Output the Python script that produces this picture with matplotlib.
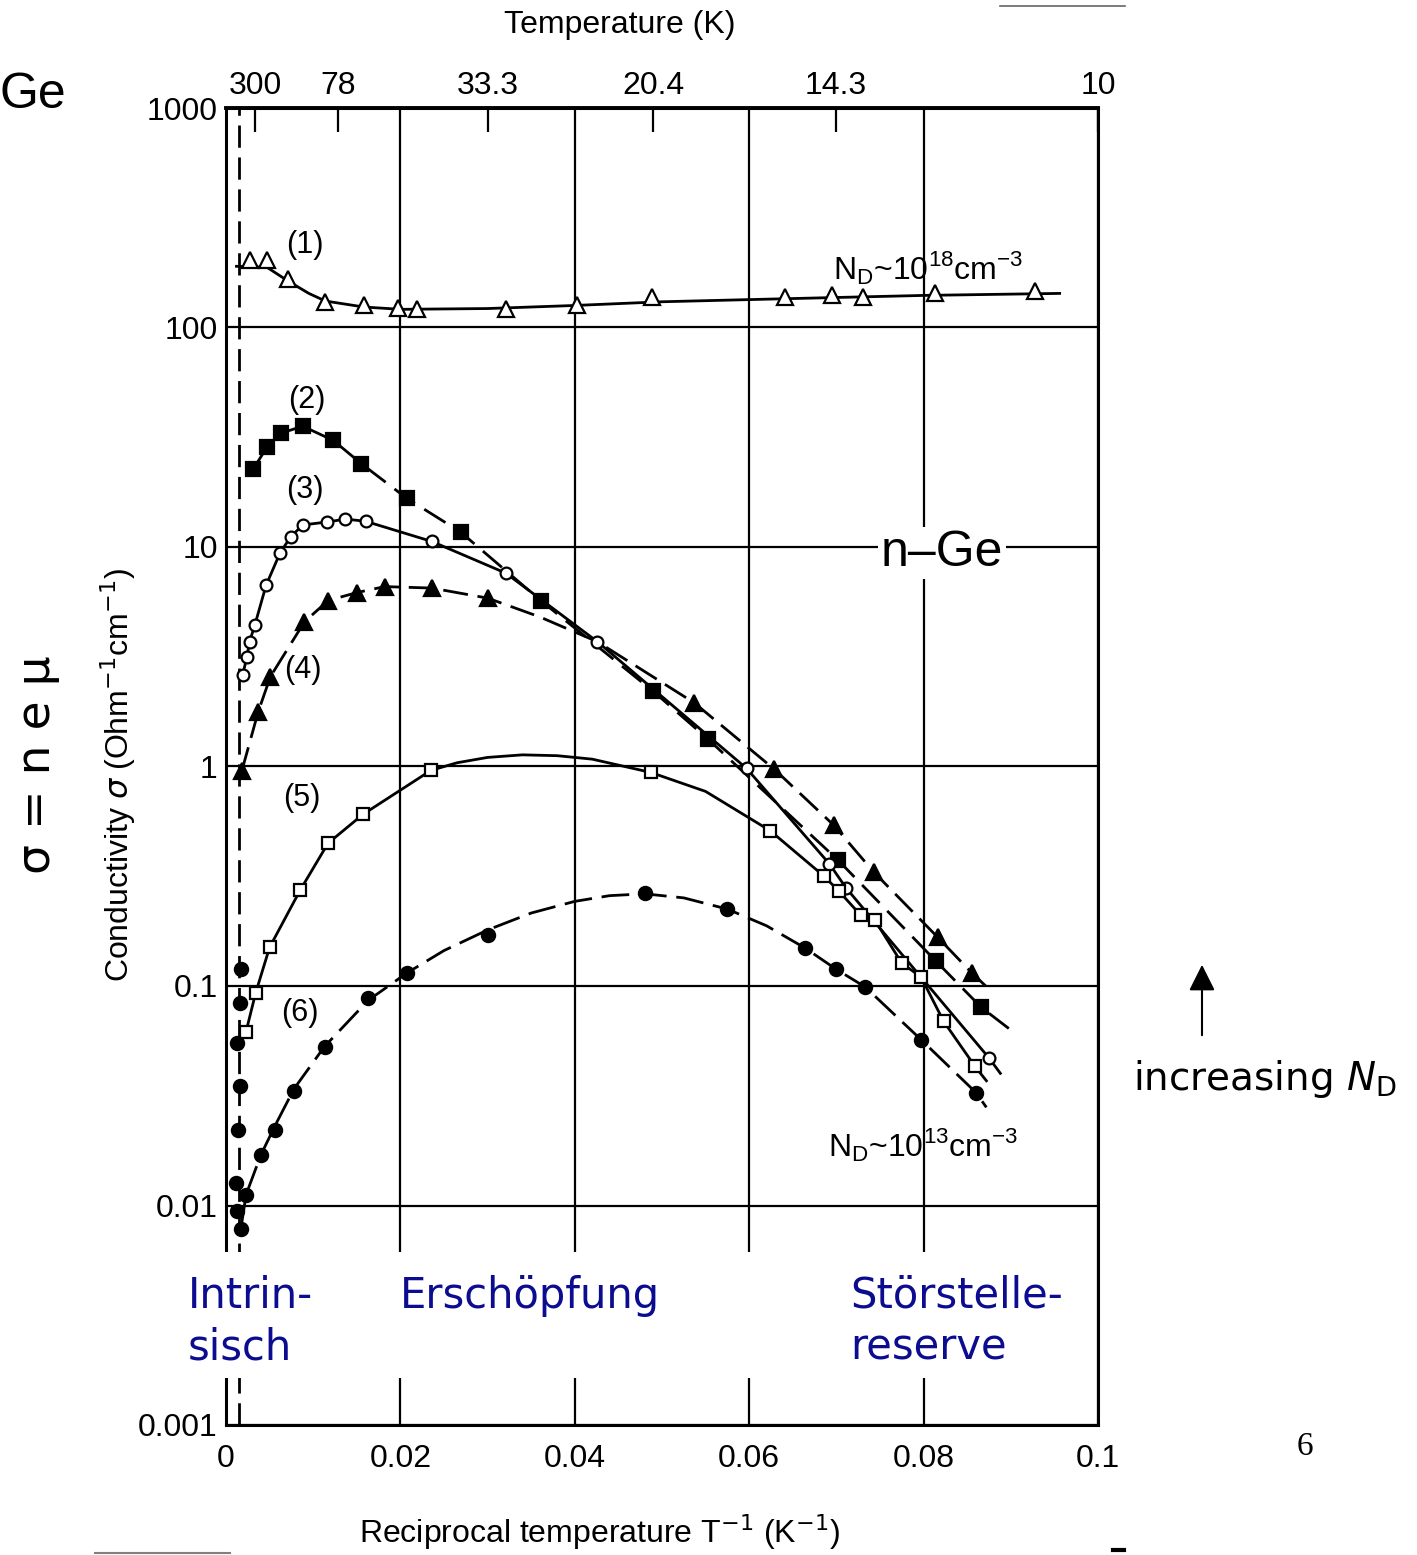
import numpy as np
import matplotlib.pyplot as plt
from matplotlib.lines import Line2D
from matplotlib.patches import Rectangle, FancyArrowPatch
from matplotlib.ticker import NullLocator

plt.rcParams['font.family'] = ['Liberation Sans', 'DejaVu Sans']

W, H = 1417, 1555
DPI = 100

# (1) N_D ~ 1e18, open triangles
c1_x = [0.0028, 0.0047, 0.0071, 0.0114, 0.0158, 0.0197, 0.0219, 0.0321, 0.0402, 0.0489, 0.0641, 0.0695, 0.0731, 0.0813, 0.0928]
c1_y = [202, 202, 167, 130, 127, 123, 122, 122, 126, 137, 138, 140, 138, 144, 146]
c1_lx = [0.0012, 0.0047, 0.0071, 0.0095, 0.0114, 0.0158, 0.02, 0.03, 0.04, 0.05, 0.06, 0.07, 0.08, 0.0956]
c1_ly = [190, 188, 163, 143, 132, 124, 121, 122, 126, 131, 134, 137, 140, 143]

# (2) filled squares
c2_x = [0.0031, 0.0047, 0.0063, 0.0088, 0.0123, 0.0155, 0.0207, 0.0269, 0.0361, 0.049, 0.0553, 0.0702, 0.0814, 0.0866]
c2_y = [22.6, 28.5, 33, 35.5, 30.6, 24, 16.7, 11.7, 5.7, 2.2, 1.33, 0.374, 0.13, 0.08]
c2_lx = c2_x + [0.0900]
c2_ly = c2_y + [0.063]

# (3) open circles
c3_x = [0.0019, 0.0024, 0.0027, 0.0033, 0.0046, 0.0062, 0.0074, 0.0088, 0.0116, 0.0137, 0.016, 0.0236, 0.0321, 0.0426, 0.0597, 0.0692, 0.0711, 0.0875]
c3_y = [2.6, 3.16, 3.7, 4.4, 6.7, 9.4, 11.1, 12.6, 13.0, 13.4, 13.1, 10.6, 7.6, 3.7, 0.98, 0.36, 0.28, 0.047]
c3_lx = c3_x + [0.0888]
c3_ly = c3_y + [0.040]

# (4) filled triangles
c4_x = [0.0018, 0.0037, 0.0051, 0.009, 0.0117, 0.015, 0.0182, 0.0236, 0.03, 0.0537, 0.0629, 0.0697, 0.0743, 0.0816, 0.0855]
c4_y = [0.95, 1.78, 2.57, 4.56, 5.7, 6.2, 6.6, 6.5, 5.85, 1.95, 0.97, 0.54, 0.33, 0.167, 0.115]
c4_lx = [0.0018, 0.0037, 0.0051, 0.009, 0.0117, 0.015, 0.0182, 0.0236, 0.03, 0.036, 0.0426, 0.0537, 0.0629, 0.0697, 0.0743, 0.0816, 0.0855, 0.0876]
c4_ly = [0.95, 1.78, 2.57, 4.56, 5.7, 6.2, 6.6, 6.5, 5.85, 4.8, 3.7, 1.95, 0.97, 0.54, 0.33, 0.167, 0.115, 0.096]

# (5) open squares
c5_x = [0.0023, 0.0034, 0.005, 0.0085, 0.0117, 0.0157, 0.0235, 0.0487, 0.0624, 0.0686, 0.0703, 0.0728, 0.0744, 0.0775, 0.0797, 0.0823, 0.0859]
c5_y = [0.062, 0.093, 0.15, 0.273, 0.447, 0.605, 0.96, 0.94, 0.51, 0.316, 0.27, 0.21, 0.2, 0.127, 0.11, 0.069, 0.043]
c5_lx = [0.0023, 0.0034, 0.005, 0.0085, 0.0117, 0.0157, 0.0235, 0.0265, 0.03, 0.034, 0.038, 0.042, 0.0487, 0.055, 0.0624, 0.0686, 0.0703, 0.0728, 0.0744, 0.0775, 0.0797, 0.0823, 0.0859, 0.0872]
c5_ly = [0.062, 0.093, 0.15, 0.273, 0.447, 0.605, 0.96, 1.04, 1.1, 1.13, 1.12, 1.08, 0.94, 0.77, 0.51, 0.316, 0.27, 0.21, 0.2, 0.127, 0.11, 0.069, 0.043, 0.037]

# (6) N_D ~ 1e13, filled circles
c6_x = [0.0023, 0.004, 0.0056, 0.0078, 0.0113, 0.0163, 0.0208, 0.03, 0.048, 0.0575, 0.0664, 0.07, 0.0733, 0.0797, 0.086]
c6_y = [0.0112, 0.017, 0.022, 0.0333, 0.053, 0.088, 0.115, 0.17, 0.265, 0.224, 0.149, 0.119, 0.099, 0.057, 0.0327]
c6i_x = [0.0017, 0.0016, 0.0013, 0.0016, 0.0014, 0.0012, 0.0013, 0.0017]
c6i_y = [0.12, 0.084, 0.055, 0.035, 0.022, 0.0127, 0.0094, 0.0078]
c6_lx = [0.0017, 0.0023, 0.004, 0.0056, 0.0078, 0.0113, 0.0163, 0.0208, 0.025, 0.03, 0.035, 0.04, 0.044, 0.048, 0.0525, 0.0575, 0.062, 0.0664, 0.07, 0.0733, 0.0797, 0.086, 0.0872]
c6_ly = [0.0078, 0.0112, 0.017, 0.023, 0.034, 0.053, 0.086, 0.115, 0.145, 0.18, 0.215, 0.243, 0.258, 0.263, 0.252, 0.224, 0.188, 0.149, 0.119, 0.099, 0.057, 0.0327, 0.028]

intrinsic_x = 0.0015

x_ticks = [0, 0.02, 0.04, 0.06, 0.08, 0.1]
x_labels = ['0', '0.02', '0.04', '0.06', '0.08', '0.1']
y_ticks = [1e-3, 1e-2, 1e-1, 1, 10, 100, 1000]
y_labels = ['0.001', '0.01', '0.1', '1', '10', '100', '1000']
temps = [300, 78, 33.3, 20.4, 14.3, 10]
temp_labels = ['300', '78', '33.3', '20.4', '14.3', '10']


def ftext(px, py, s, **kw):
    return fig.text(px / W, 1 - py / H, s, **kw)


fig = plt.figure(figsize=(W / DPI, H / DPI), dpi=DPI)
ax = fig.add_axes([226 / W, 1 - 1425 / H, (1098 - 226) / W, (1425 - 108) / H])
ax.set_xlim(0, 0.1)
ax.set_yscale('log')
ax.set_ylim(1e-3, 1e3)
ax.set_xticks(x_ticks)
ax.set_xticklabels(x_labels)
ax.set_yticks(y_ticks)
ax.set_yticklabels(y_labels)
ax.yaxis.set_minor_locator(NullLocator())
ax.tick_params(axis='both', length=0, labelsize=23)
ax.tick_params(axis='x', pad=14)
ax.tick_params(axis='y', pad=6)
ax.grid(True, color='black', lw=1.6)
ax.set_axisbelow(True)
for s in ax.spines.values():
    s.set_linewidth(2.2)

lw = 2.0
ax.axvline(intrinsic_x, color='black', lw=lw, ls=(0, (8, 3.5)), zorder=3)

ax.plot(c1_lx, c1_ly, color='black', lw=lw, zorder=3)
ax.plot(c2_lx, c2_ly, color='black', lw=lw, ls=(0, (9, 4)), zorder=3)
ax.plot(c3_lx, c3_ly, color='black', lw=lw, zorder=3)
ax.plot(c4_lx, c4_ly, color='black', lw=lw, ls=(0, (9, 3.5)), zorder=3)
ax.plot(c5_lx, c5_ly, color='black', lw=lw, zorder=3)
ax.plot(c6_lx, c6_ly, color='black', lw=lw, ls=(0, (10, 3.5)), zorder=3)

mk = dict(ls='none', zorder=4, markeredgecolor='black', markeredgewidth=1.6)
ax.plot(c1_x, c1_y, marker='^', ms=12, markerfacecolor='white', **mk)
ax.plot(c2_x, c2_y, marker='s', ms=9.5, markerfacecolor='black', **mk)
ax.plot(c3_x, c3_y, marker='o', ms=8.5, markerfacecolor='white', **mk)
ax.plot(c4_x, c4_y, marker='^', ms=12, markerfacecolor='black', **mk)
ax.plot(c5_x, c5_y, marker='s', ms=9, markerfacecolor='white', **mk)
ax.plot(c6_x, c6_y, marker='o', ms=9.5, markerfacecolor='black', **mk)
ax.plot(c6i_x, c6i_y, marker='o', ms=9.5, markerfacecolor='black', **mk)

# top temperature axis
ax2 = ax.twiny()
ax2.set_xlim(0, 0.1)
ax2.set_xticks([1 / t for t in temps])
ax2.set_xticklabels(temp_labels)
ax2.tick_params(axis='x', direction='in', length=17, width=1.6, labelsize=23, pad=5)
for side in ['left', 'right', 'bottom']:
    ax2.spines[side].set_visible(False)
ax2.spines['top'].set_linewidth(2.8)

# white band behind the region labels
fig.add_artist(Rectangle((180 / W, 1 - 1378 / H), (1078 - 180) / W, (1378 - 1252) / H,
                         transform=fig.transFigure, facecolor='white', edgecolor='none', zorder=1))

blue = '#0c0c90'
rk = dict(color=blue, fontsize=30, family='DejaVu Sans', va='baseline', ha='left', zorder=3)
ftext(188, 1308, 'Intrin-', **rk)
ftext(188, 1360, 'sisch', **rk)
ftext(400, 1308, 'Erschöpfung', **rk)
ftext(850, 1308, 'Störstelle-', **rk)
ftext(850, 1360, 'reserve', **rk)

# curve labels
for lab, px, py in [('(1)', 305, 245), ('(2)', 307, 400), ('(3)', 305, 490),
                    ('(4)', 303, 670), ('(5)', 302, 798), ('(6)', 300, 1013)]:
    ftext(px, py, lab, fontsize=22, ha='center', va='center')

ftext(833, 268, r'N$_\mathregular{D}$~10$^\mathregular{18}$cm$^\mathregular{-3}$', fontsize=23, ha='left', va='center')
ftext(828, 1145, r'N$_\mathregular{D}$~10$^\mathregular{13}$cm$^\mathregular{-3}$', fontsize=23, ha='left', va='center')
ftext(942, 553, 'n\u2013Ge', fontsize=36, ha='center', va='center',
      bbox=dict(facecolor='white', edgecolor='none', pad=2))

ftext(0, 95, 'Ge', fontsize=36, ha='left', va='center')
ftext(38, 765, 'σ = n e μ', fontsize=34, family='DejaVu Sans', rotation=90, ha='center', va='center')
ftext(118, 775, r'Conductivity $\sigma$ (Ohm$^{-1}$cm$^{-1}$)', fontsize=23, rotation=90, ha='center', va='center')
ftext(620, 25, 'Temperature (K)', fontsize=23, ha='center', va='center')
ftext(600, 1532, r'Reciprocal temperature T$^{-1}$ (K$^{-1}$)', fontsize=23, ha='center', va='center')

ftext(1133, 1090, r'increasing $N_{\mathrm{D}}$', fontsize=28, family='DejaVu Sans', ha='left', va='baseline')
fig.add_artist(FancyArrowPatch((1202 / W, 1 - 1038 / H), (1202 / W, 1 - 962 / H),
                               transform=fig.transFigure, arrowstyle='-|>', mutation_scale=40,
                               color='black', lw=1.5))
ftext(1305, 1447, '6', fontsize=24, family='Liberation Serif', ha='center', va='center')

# scan edge marks
fig.add_artist(Line2D([1000 / W, 1125 / W], [1 - 6 / H, 1 - 6 / H], color='0.4', lw=1.2))
fig.add_artist(Line2D([95 / W, 230 / W], [1 - 1553 / H, 1 - 1553 / H], color='0.5', lw=1.5))
fig.add_artist(Line2D([1113 / W, 1124 / W], [1 - 1550 / H, 1 - 1550 / H], color='black', lw=3))

plt.savefig('out.png', dpi=DPI)
